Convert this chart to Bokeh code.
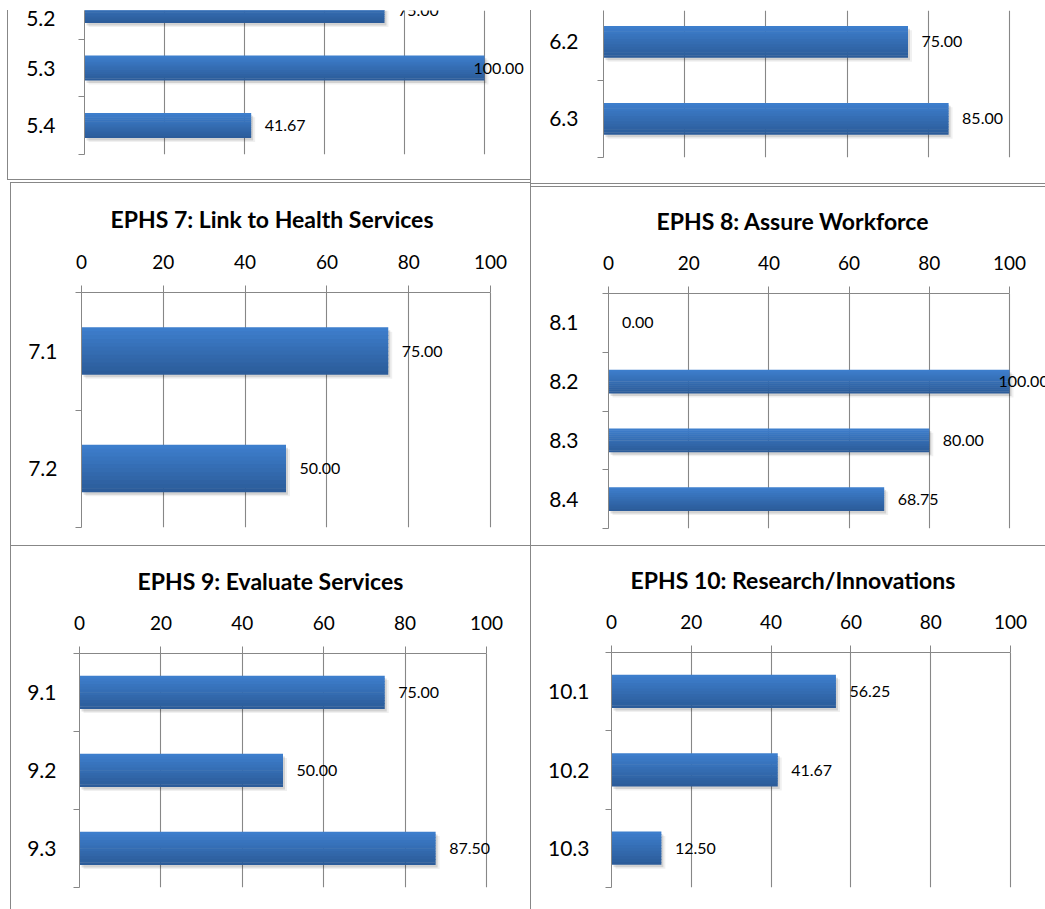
import numpy as np
from bokeh.plotting import figure
from bokeh.models import ColumnDataSource, Range1d, FixedTicker, LabelSet, Spacer
from bokeh.layouts import row, column
from bokeh.core.properties import value
from bokeh.embed import file_html
from bokeh.resources import INLINE

# ---------------- data ----------------
ephs5_cats = ["5.2", "5.3", "5.4"]
ephs5_vals = [75.00, 100.00, 41.67]
ephs6_cats = ["6.2", "6.3"]
ephs6_vals = [75.00, 85.00]
ephs7_cats = ["7.1", "7.2"]
ephs7_vals = [75.00, 50.00]
ephs8_cats = ["8.1", "8.2", "8.3", "8.4"]
ephs8_vals = [0.00, 100.00, 80.00, 68.75]
ephs9_cats = ["9.1", "9.2", "9.3"]
ephs9_vals = [75.00, 50.00, 87.50]
ephs10_cats = ["10.1", "10.2", "10.3"]
ephs10_vals = [56.25, 41.67, 12.50]
title7 = "EPHS 7: Link to Health Services"
title8 = "EPHS 8: Assure Workforce"
title9 = "EPHS 9: Evaluate Services"
title10 = "EPHS 10: Research/Innovations"
x_ticks = [0, 20, 40, 60, 80, 100]

# ---------------- style ----------------
GRAY = "#878787"
FONT = "Lato"
TOP_RGB = np.array([62, 127, 206])
BOT_RGB = np.array([43, 91, 152])
STRIPS = 12


def hexc(rgb):
    r, g, b = [int(round(c)) for c in rgb]
    return "#%02x%02x%02x" % (r, g, b)


def panel(cats, vals, title, W, H, left, x100, top, bottom, y_top, thick,
          cat_standoff, title_offset=0, title_standoff=36):
    n = len(cats)
    has_title = title is not None
    pxx = (x100 - left) / 100.0          # pixels per unit on the value axis
    x_max = (W - left) / pxx              # frame runs to the right edge of the box
    p = figure(width=W, height=H,
               x_range=Range1d(0, x_max), y_range=Range1d(n, y_top),
               x_axis_location="above" if has_title else None,
               y_axis_location="left",
               min_border_left=left, min_border_right=0,
               min_border_top=top, min_border_bottom=bottom,
               toolbar_location=None, tools="", output_backend="svg",
               background_fill_color="white", border_fill_color="white",
               outline_line_color=None)

    frame_h = H - top - bottom
    pxy = frame_h / (n - y_top)

    # grid
    p.xgrid.ticker = FixedTicker(ticks=x_ticks)
    p.xgrid.grid_line_color = GRAY
    p.xgrid.grid_line_width = 1.1
    p.ygrid.visible = False

    if has_title:
        xa = p.xaxis[0]
        xa.ticker = FixedTicker(ticks=x_ticks)
        xa.bounds = (0, 100)
        xa.axis_line_color = GRAY
        xa.major_tick_line_color = GRAY
        xa.major_tick_out = 7
        xa.major_tick_in = 0
        xa.minor_tick_out = 0
        xa.minor_tick_in = 0
        xa.major_label_text_font = FONT
        xa.major_label_text_font_size = "19px"
        xa.major_label_text_color = "#000000"
        xa.major_label_standoff = 17

        p.title.text = title
        p.title.text_font = FONT
        p.title.text_font_style = "bold"
        p.title.text_font_size = "23px"
        p.title.text_color = "#000000"
        p.title.align = "left"
        p.title.offset = title_offset
        p.title.standoff = title_standoff

    centers = [i + 0.5 for i in range(n)]
    ya = p.yaxis[0]
    ya.ticker = FixedTicker(ticks=centers, minor_ticks=list(range(n + 1)))
    ya.major_label_overrides = {c: lab for c, lab in zip(centers, cats)}
    ya.axis_line_color = GRAY
    ya.major_tick_out = 0
    ya.major_tick_in = 0
    ya.minor_tick_out = 6
    ya.minor_tick_in = 0
    ya.minor_tick_line_color = GRAY
    ya.major_label_text_font = FONT
    ya.major_label_text_font_size = "21px"
    ya.major_label_text_color = "#000000"
    ya.major_label_standoff = cat_standoff

    vals_a = np.array(vals, dtype=float)
    cen = np.array(centers)
    pos = vals_a > 0

    # soft shadow
    for dx, dy, a in [(4, 4, 0.06), (2, 2.5, 0.12)]:
        p.hbar(y=cen[pos] + dy / pxy, left=dx / pxx, right=vals_a[pos] + dx / pxx,
               height=thick, fill_color="#000000", fill_alpha=a, line_color=None)

    # gradient bars built from strips
    ys, rights, hs, cols = [], [], [], []
    for c, v in zip(cen, vals_a):
        for j in range(STRIPS):
            f = (j + 0.5) / STRIPS
            ys.append(c - thick / 2 + f * thick)
            rights.append(v)
            hs.append(thick / STRIPS * (1.25 if j < STRIPS - 1 else 1.0))
            cols.append(hexc(TOP_RGB + (BOT_RGB - TOP_RGB) * f))
    src = ColumnDataSource(dict(y=ys, right=rights, h=hs, color=cols))
    p.hbar(y="y", left=0, right="right", height="h", fill_color="color",
           line_color=None, source=src)

    # value labels
    lsrc = ColumnDataSource(dict(
        x=vals_a, y=cen, txt=["%.2f" % v for v in vals_a],
        off=[13.5 if v < 95 else -11 for v in vals_a]))
    p.add_layout(LabelSet(x="x", y="y", text="txt", x_offset="off", source=lsrc,
                          text_align="left", text_baseline="middle",
                          text_font=value(FONT), text_font_size=value("16px"),
                          text_color="#000000"))
    return p


def hline(w):
    return Spacer(width=w, height=1, styles={"background-color": GRAY})


def vline(h):
    return Spacer(width=1, height=h, styles={"background-color": GRAY})


def blank(w, h):
    return Spacer(width=w, height=h)


#            cats         vals         title    W    H    left x100 top bot  y_top  thick  std  t_off  t_std
p5 = panel(ephs5_cats, ephs5_vals, None, 522, 169, 76, 476, 0, 25, 0.5, 0.43, 23)
p6 = panel(ephs6_cats, ephs6_vals, None, 514, 173, 72, 478, 0, 26, 0.091, 0.41, 19)
p7 = panel(ephs7_cats, ephs7_vals, title7, 519, 362, 70, 479, 109, 18, 0, 0.40, 18, 29, 38)
p8 = panel(ephs8_cats, ephs8_vals, title8, 514, 358, 77, 478, 106, 17, 0, 0.40, 24, 48, 35)
p9 = panel(ephs9_cats, ephs9_vals, title9, 519, 363, 68, 475, 107, 22, 0, 0.42, 17, 58, 36)
p10 = panel(ephs10_cats, ephs10_vals, title10, 514, 363, 80, 479, 106, 22, 0, 0.42, 16, 19, 35)

left_col = column(
    row(blank(7, 169), vline(169), p5),
    row(blank(7, 1), hline(523)),
    blank(530, 2),
    row(blank(10, 1), hline(520)),
    row(blank(10, 362), vline(362), p7),
    row(blank(10, 1), hline(520)),
    row(blank(10, 363), vline(363), p9),
)
right_col = column(
    row(p6),
    hline(514),
    blank(514, 2),
    hline(514),
    row(p8),
    hline(514),
    row(p10),
)
layout = column(blank(1045, 10), row(left_col, vline(899), right_col))

open("out.html", "w").write(file_html(layout, INLINE))
